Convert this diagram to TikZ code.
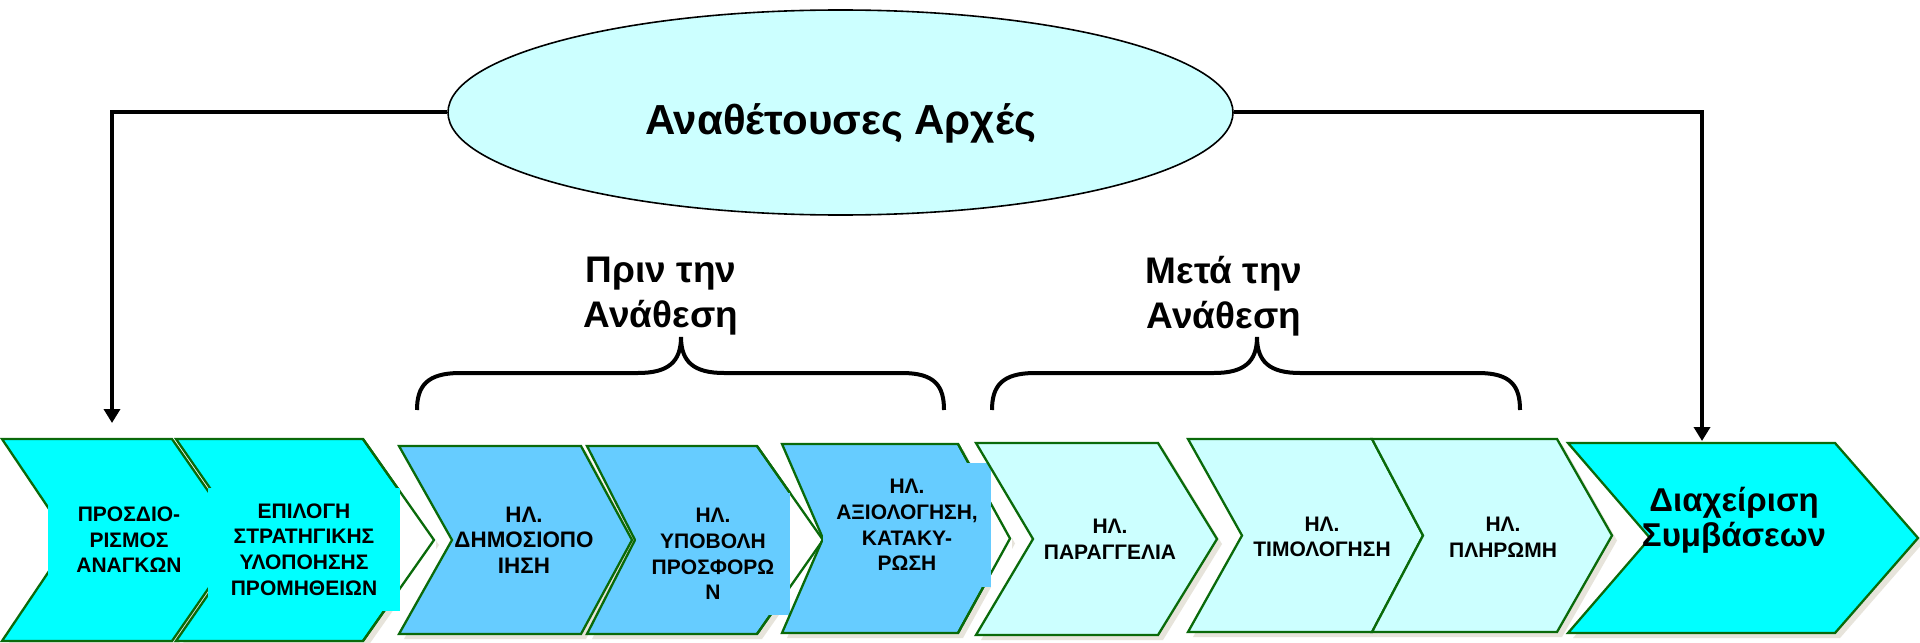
\documentclass[tikz,border=0pt]{standalone}
\usepackage{fontspec}
\setmainfont{Liberation Sans}
\usetikzlibrary{shapes.geometric,arrows.meta}

\definecolor{aqua}{HTML}{00FFFF}
\definecolor{skyblue}{HTML}{66CCFF}
\definecolor{paleblue}{HTML}{CCFFFF}
\definecolor{edgegreen}{HTML}{0A6A0A}
\definecolor{shadowgray}{HTML}{E7E4DB}

\begin{document}
\begin{tikzpicture}[x=0.5pt,y=-0.5pt]
    \tikzset{
        chev/.style={draw=edgegreen, line width=1.15pt, line join=miter},
        stagetext/.style={font=\bfseries\fontsize{10.5}{12.8}\selectfont, align=center, inner sep=0pt},
        phasetext/.style={font=\bfseries\fontsize{18.5}{22.5}\selectfont, align=center, inner sep=0pt},
        link/.style={line width=2pt, -{Triangle[width=8pt,length=7pt]}},
        curly/.style={line width=2pt},
    }

    \useasboundingbox (0,0) rectangle (1920,642);
    \fill[white] (0,0) rectangle (1920,642);

    % Shadows
    \foreach \l/\n/\r/\t/\a/\b in {2/70/172/242/439/641, 176/246/363/434/439/641,
        399/452/581/632/446/634, 587/635/757/823/446/634, 782/823/958/1010/444/633,
        976/1033/1158/1217/443/635, 1188/1242/1372/1423/439/632,
        1372/1423/1557/1612/439/632, 1568/1650/1835/1918/443/633}
        \fill[shadowgray, shift={(5,5)}] (\l,\a) -- (\r,\a) -- (\t,{(\a+\b)/2})
            -- (\r,\b) -- (\l,\b) -- (\n,{(\a+\b)/2}) -- cycle;

    % Stages
    \draw[chev, fill=aqua] (2,439) -- (172,439) -- (242,540) -- (172,641) -- (2,641) -- (70,540) -- cycle;
    \node[stagetext, fill=aqua, minimum width=81pt, minimum height=40pt] (c1) at (129,540)
        {ΠΡΟΣΔΙΟ-\\ΡΙΣΜΟΣ\\ΑΝΑΓΚΩΝ};

    \draw[chev, fill=aqua] (176,439) -- (363,439) -- (434,540) -- (363,641) -- (176,641) -- (246,540) -- cycle;
    \fill[white] (400,488) rectangle (436,611);
    \draw[chev] (363,439) -- (434,540) -- (363,641);
    \node[stagetext, fill=aqua, minimum width=96pt, minimum height=61.5pt] (c2) at (304,549.5)
        {ΕΠΙΛΟΓΗ\\ΣΤΡΑΤΗΓΙΚΗΣ\\ΥΛΟΠΟΗΣΗΣ\\ΠΡΟΜΗΘΕΙΩΝ};

    \draw[chev, fill=skyblue] (399,446) -- (581,446) -- (632,540) -- (581,634) -- (399,634) -- (452,540) -- cycle;
    \node[stagetext, font=\bfseries\fontsize{11.2}{12.8}\selectfont] (c3) at (524,540) {ΗΛ.\\ΔΗΜΟΣΙΟΠΟ\\ΙΗΣΗ};

    \draw[chev, fill=skyblue] (587,446) -- (757,446) -- (823,540) -- (757,634) -- (587,634) -- (635,540) -- cycle;
    \fill[white] (790,493) rectangle (825,615);
    \draw[chev] (757,446) -- (823,540) -- (757,634);
    \node[stagetext, fill=skyblue, minimum width=77pt, minimum height=61pt] (c4) at (713,554)
        {ΗΛ.\\ΥΠΟΒΟΛΗ\\ΠΡΟΣΦΟΡΩ\\Ν};

    \draw[chev, fill=skyblue] (782,444) -- (958,444) -- (1010,538.5) -- (958,633) -- (782,633) -- (823,538.5) -- cycle;
    \fill[white] (991,463) rectangle (1012,587);
    \draw[chev] (958,444) -- (1010,538.5) -- (958,633);
    \node[stagetext, fill=skyblue, minimum width=84pt, minimum height=62pt] (c5) at (907,525)
        {ΗΛ.\\ΑΞΙΟΛΟΓΗΣΗ,\\ΚΑΤΑΚΥ-\\ΡΩΣΗ};

    \draw[chev, fill=paleblue] (976,443) -- (1158,443) -- (1217,539) -- (1158,635) -- (976,635) -- (1033,539) -- cycle;
    \node[stagetext] (c6) at (1110,539) {ΗΛ.\\ΠΑΡΑΓΓΕΛΙΑ};

    \draw[chev, fill=paleblue] (1188,439) -- (1372,439) -- (1423,535.5) -- (1372,632) -- (1188,632) -- (1242,535.5) -- cycle;
    \node[stagetext] (c7) at (1322,537) {ΗΛ.\\ΤΙΜΟΛΟΓΗΣΗ};

    \draw[chev, fill=paleblue] (1372,439) -- (1557,439) -- (1612,535.5) -- (1557,632) -- (1372,632) -- (1423,535.5) -- cycle;
    \node[stagetext] (c8) at (1503,537) {ΗΛ.\\ΠΛΗΡΩΜΗ};

    \draw[chev, fill=aqua] (1568,443) -- (1835,443) -- (1918,538) -- (1835,633) -- (1568,633) -- (1650,538) -- cycle;
    \node[stagetext, font=\bfseries\fontsize{16.5}{17.5}\selectfont] (c9) at (1734,520)
        {Διαχείριση\\Συμβάσεων};

    % Contracting authorities
    \node[draw, ellipse, fill=paleblue, line width=0.8pt, minimum width=392.5pt, minimum height=102.5pt,
        text height=21.5pt, text depth=0pt,
        font=\bfseries\fontsize{21}{25}\selectfont] (auth) at (840.5,112.5) {Αναθέτουσες Αρχές};

    \coordinate (in1) at (112,423);
    \coordinate (in9) at (1702,441);
    \draw[link] (auth.west) -| (in1);
    \draw[link] (auth.east) -| (in9);

    % Phases
    \node[phasetext] (before) at (661,296) {Πριν την\\Ανάθεση};
    \node[phasetext] (after) at (1224,296) {Μετά την\\Ανάθεση};

    \draw[curly] (417,410) .. controls (417,386) and (427,373) .. (460,373) -- (638,373)
        .. controls (668,373) and (681,362) .. (681,337)
        .. controls (681,362) and (694,373) .. (724,373) -- (902,373)
        .. controls (935,373) and (944,386) .. (944,410);
    \draw[curly] (992,410) .. controls (992,386) and (1002,373) .. (1035,373) -- (1214,373)
        .. controls (1244,373) and (1257,362) .. (1257,337)
        .. controls (1257,362) and (1270,373) .. (1300,373) -- (1478,373)
        .. controls (1511,373) and (1520,386) .. (1520,410);
\end{tikzpicture}
\end{document}
